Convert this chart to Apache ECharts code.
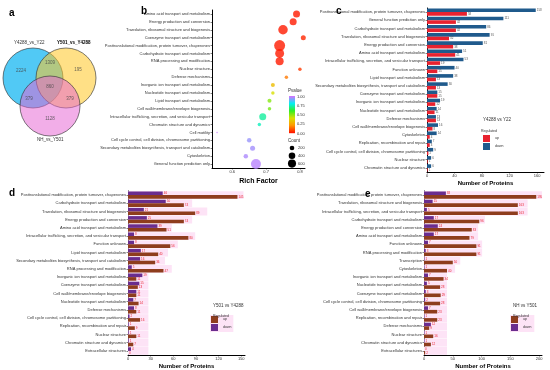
<!DOCTYPE html>
<html><head><meta charset="utf-8">
<script src="https://cdn.jsdelivr.net/npm/echarts@6/dist/echarts.min.js"></script>
<style>html,body{margin:0;padding:0;background:#fff}#c{width:550px;height:370px}</style>
</head><body><div id="c"></div>
<script>
// ---------- Panel a: Venn ----------
const vennSets = ['Y4288_vs_Y22', 'Y501_vs_Y4288', 'NH_vs_Y501'];
const vennCounts = ['2224', '1309', '195', '860', '379', '379', '1128'];

// ---------- Panel b: COG enrichment bubble ----------
const bCats = ['Amino acid transport and metabolism','Energy production and conversion','Translation, ribosomal structure and biogenesis','Coenzyme transport and metabolism','Posttranslational modification, protein turnover, chaperones','Carbohydrate transport and metabolism','RNA processing and modification','Nuclear structure','Defense mechanisms','Inorganic ion transport and metabolism','Nucleotide transport and metabolism','Lipid transport and metabolism','Cell wall/membrane/envelope biogenesis','Intracellular trafficking, secretion, and vesicular transport','Chromatin structure and dynamics','Cell motility','Cell cycle control, cell division, chromosome partitioning','Secondary metabolites biosynthesis, transport and catabolism','Cytoskeleton','General function prediction only'];
const bRich = [0.79,0.78,0.75,0.81,0.74,0.74,0.74,0.80,0.76,0.72,0.72,0.71,0.71,0.69,0.68,0.555,0.65,0.66,0.64,0.67];
const bCount = [450,450,830,230,1100,740,590,110,110,150,110,150,110,450,110,20,185,230,185,920];
const bPval = [0.0,0.0,0.0,0.02,0.0,0.0,0.0,0.05,0.15,0.3,0.4,0.5,0.52,0.72,0.75,1.0,0.95,0.96,0.97,0.98];
const bXTicks = [0.6, 0.7, 0.8];
const pvalTicks = ['1.00', '0.75', '0.50', '0.25', '0.00'];
const countTicks = [200, 400, 600];

// ---------- Panel c ----------
const cCats = ['Posttranslational modification, protein turnover, chaperones','General function prediction only','Carbohydrate transport and metabolism','Translation, ribosomal structure and biogenesis','Energy production and conversion','Amino acid transport and metabolism','Intracellular trafficking, secretion, and vesicular transport','Function unknown','Lipid transport and metabolism','Secondary metabolites biosynthesis, transport and catabolism','Coenzyme transport and metabolism','Inorganic ion transport and metabolism','Nucleotide transport and metabolism','Defense mechanisms','Cell wall/membrane/envelope biogenesis','Cytoskeleton','Replication, recombination and repair','Cell cycle control, cell division, chromosome partitioning','Nuclear structure','Chromatin structure and dynamics'];
const cDown = [158,111,86,91,81,51,53,40,38,30,15,19,14,13,16,14,7,9,6,6];
const cUp = [58,42,42,32,38,41,19,15,13,13,15,12,11,13,8,4,4,2,1,1];

// ---------- Panel d ----------
const dCats = ['Posttranslational modification, protein turnover, chaperones','Carbohydrate transport and metabolism','Translation, ribosomal structure and biogenesis','Energy production and conversion','Amino acid transport and metabolism','Intracellular trafficking, secretion, and vesicular transport','Function unknown','Lipid transport and metabolism','Secondary metabolites biosynthesis, transport and catabolism','RNA processing and modification','Inorganic ion transport and metabolism','Coenzyme transport and metabolism','Cell wall/membrane/envelope biogenesis','Nucleotide transport and metabolism','Defense mechanisms','Cell cycle control, cell division, chromosome partitioning','Replication, recombination and repair','Nuclear structure','Chromatin structure and dynamics','Extracellular structures'];
const dDown = [46,50,21,25,39,8,8,17,16,5,19,15,11,7,8,2,1,1,1,4];
const dUp = [145,74,89,74,51,80,56,40,36,47,11,13,11,14,11,16,9,11,7,0];
const dBg = [153,85,105,85,58,89,66,53,49,58,27,27,27,27,27,27,27,27,27,27];

// ---------- Panel e ----------
const eCats = ['Posttranslational modification, protein turnover, chaperones','Translation, ribosomal structure and biogenesis','Intracellular trafficking, secretion, and vesicular transport','Carbohydrate transport and metabolism','Energy production and conversion','Amino acid transport and metabolism','Function unknown','RNA processing and modification','Transcription','Cytoskeleton','Inorganic ion transport and metabolism','Nucleotide transport and metabolism','Coenzyme transport and metabolism','Cell cycle control, cell division, chromosome partitioning','Cell wall/membrane/envelope biogenesis','Replication, recombination and repair','Defense mechanisms','Nuclear structure','Chromatin structure and dynamics','Extracellular structures'];
const eDown = [38,15,5,17,24,17,7,3,1,1,7,5,3,2,7,1,12,1,1,0];
const eUp = [195,163,163,96,83,79,91,91,50,40,34,28,29,28,23,23,9,16,12,2];
const eBg = [205,180,180,106,94,94,101,101,63,54,40,40,40,40,40,40,40,40,40,40];

const FONT = 'Liberation Sans';
const PCOLORS = ['#ff1a00', '#ff9900', '#d8e000', '#33ee22', '#00f0f0', '#cc77ff'];
const chart = echarts.init(document.getElementById('c'), null, {renderer: 'canvas'});

function catAxis(gi, cats, extra) {
  return Object.assign({
    type: 'category', gridIndex: gi, data: cats, inverse: true,
    axisLine: {show: true, lineStyle: {color: '#000', width: 1}},
    axisTick: {show: true, length: 1.5, alignWithLabel: true, lineStyle: {color: '#000', width: 0.5}},
    axisLabel: {fontSize: 4, color: '#333', fontFamily: FONT, margin: 2}
  }, extra || {});
}
function valAxis(gi, max, interval, name) {
  return {
    type: 'value', gridIndex: gi, min: 0, max: max, interval: interval,
    name: name, nameLocation: 'middle', nameGap: 8,
    nameTextStyle: {fontSize: 6, fontWeight: 'bold', color: '#000', fontFamily: FONT},
    splitLine: {show: false},
    axisLine: {show: true, lineStyle: {color: '#000', width: 1}},
    axisTick: {show: true, length: 1.5, lineStyle: {color: '#000', width: 0.5}},
    axisLabel: {fontSize: 4, color: '#333', fontFamily: FONT, margin: 2, showMaxLabel: false}
  };
}
function labelCfg(color) {
  return {show: true, position: 'right', distance: 1, fontSize: 3, color: color, fontFamily: FONT};
}
const sizeOf = c => Math.max(1.2, Math.sqrt(c) * 0.33);

const vennCircles = [
  {value: [33, 78], itemStyle: {color: 'rgba(0,176,240,0.85)'}},
  {value: [66, 78], itemStyle: {color: 'rgba(255,200,40,0.70)'}},
  {value: [50, 106], itemStyle: {color: 'rgba(230,100,210,0.65)'}}
];
const vennLabelPos = [[21,71],[50,63],[78,70],[50,87],[29,99],[70,99],[50,119]];

const option = {
  backgroundColor: '#fff',
  animation: false,
  textStyle: {fontFamily: FONT},
  title: [
    {text: 'a', left: 4, top: 3, textStyle: {fontSize: 10, fontWeight: 'bold', color: '#000'}},
    {text: 'b', left: 136, top: 1, textStyle: {fontSize: 10, fontWeight: 'bold', color: '#000'}},
    {text: 'c', left: 331, top: 1, textStyle: {fontSize: 10, fontWeight: 'bold', color: '#000'}},
    {text: 'd', left: 4, top: 183, textStyle: {fontSize: 10, fontWeight: 'bold', color: '#000'}},
    {text: 'e', left: 360, top: 184, textStyle: {fontSize: 10, fontWeight: 'bold', color: '#000'}},
    {text: 'Y4288 vs Y22', left: 478, top: 112, textStyle: {fontSize: 4.5, fontWeight: 'normal', color: '#333'}},
    {text: 'Regulated', left: 476, top: 124, textStyle: {fontSize: 3.5, fontWeight: 'normal', color: '#333'}},
    {text: 'Y501 vs Y4288', left: 208, top: 298, textStyle: {fontSize: 4.5, fontWeight: 'normal', color: '#333'}},
    {text: 'Regulated', left: 208, top: 309, textStyle: {fontSize: 3.5, fontWeight: 'normal', color: '#333'}},
    {text: 'NH vs Y501', left: 508, top: 298, textStyle: {fontSize: 4.5, fontWeight: 'normal', color: '#333'}},
    {text: 'Regulated', left: 508, top: 309, textStyle: {fontSize: 3.5, fontWeight: 'normal', color: '#333'}}
  ],
  grid: [
    {left: 0, top: 30, width: 110, height: 120, show: false},
    {left: 212, top: 10, width: 93, height: 158},
    {left: 427, top: 8, width: 117, height: 164},
    {left: 128, top: 191, width: 117, height: 166},
    {left: 424, top: 191, width: 118, height: 166}
  ],
  xAxis: [
    {type: 'value', gridIndex: 0, min: 0, max: 110, show: false},
    {type: 'value', gridIndex: 1, min: 0.54, max: 0.815, name: 'Rich Factor', nameLocation: 'middle', nameGap: 10,
     nameTextStyle: {fontSize: 7, fontWeight: 'bold', color: '#000'},
     splitLine: {show: false}, axisLine: {show: true, lineStyle: {color: '#000'}},
     axisTick: {show: true, length: 1.5, customValues: bXTicks, lineStyle: {color: '#000', width: 0.5}},
     axisLabel: {fontSize: 4, color: '#333', margin: 2, customValues: bXTicks, formatter: v => v.toFixed(1)}},
    valAxis(2, 170, 40, 'Number of Proteins'),
    valAxis(3, 155, 30, 'Number of Proteins'),
    valAxis(4, 205, 50, 'Number of Proteins')
  ],
  yAxis: [
    {type: 'value', gridIndex: 0, min: 30, max: 150, inverse: true, show: false},
    catAxis(1, bCats),
    catAxis(2, cCats),
    catAxis(3, dCats),
    catAxis(4, eCats),
    catAxis(3, dCats, {show: false}),
    catAxis(4, eCats, {show: false})
  ],
  legend: [
    {data: ['up', 'down'], orient: 'vertical', left: 478, top: 130, itemWidth: 7, itemHeight: 7, itemGap: 1,
     textStyle: {fontSize: 3.5, color: '#333'}, icon: 'rect'},
    {data: ['up ', 'down '], orient: 'vertical', left: 210, top: 315, itemWidth: 7, itemHeight: 7, itemGap: 1,
     textStyle: {fontSize: 3.5, color: '#333'}, icon: 'rect', backgroundColor: '#fde3f6', padding: 1},
    {data: ['up  ', 'down  '], orient: 'vertical', left: 510, top: 315, itemWidth: 7, itemHeight: 7, itemGap: 1,
     textStyle: {fontSize: 3.5, color: '#333'}, icon: 'rect', backgroundColor: '#fde3f6', padding: 1}
  ],
  visualMap: {
    type: 'continuous', show: false, seriesIndex: 2, dimension: 2, min: 0, max: 1,
    inRange: {color: PCOLORS}
  },
  series: [
    {type: 'scatter', xAxisIndex: 0, yAxisIndex: 0, symbolSize: 60, data: vennCircles,
     itemStyle: {borderColor: '#333', borderWidth: 0.8}, silent: true, z: 1},
    {type: 'scatter', xAxisIndex: 0, yAxisIndex: 0, symbolSize: 0, z: 3,
     data: vennLabelPos.map((p, i) => ({value: p, name: vennCounts[i]})),
     label: {show: true, position: 'inside', formatter: p => p.name, fontSize: 4.5, color: '#444'}},
    {type: 'scatter', xAxisIndex: 1, yAxisIndex: 1, z: 3,
     data: bCats.map((c, i) => [bRich[i], c, bPval[i], bCount[i]]),
     symbolSize: d => sizeOf(d[3])},
    // panel c
    {type: 'bar', name: 'down', xAxisIndex: 2, yAxisIndex: 2, data: cDown, barWidth: 3.6, barGap: '0%',
     itemStyle: {color: '#1f5a8c'}, label: labelCfg('#555')},
    {type: 'bar', name: 'up', xAxisIndex: 2, yAxisIndex: 2, data: cUp, barWidth: 3.6, barGap: '0%',
     itemStyle: {color: '#e8222f'}, label: labelCfg('#555')},
    // panel d
    {type: 'bar', xAxisIndex: 3, yAxisIndex: 5, data: dBg, barWidth: 7.8, itemStyle: {color: '#fde3f6'}, silent: true, z: 1},
    {type: 'bar', name: 'down ', xAxisIndex: 3, yAxisIndex: 3, data: dDown, barWidth: 3.6, barGap: '0%',
     itemStyle: {color: '#6a2d8e'}, label: labelCfg('#e8222f'), z: 2},
    {type: 'bar', name: 'up ', xAxisIndex: 3, yAxisIndex: 3, data: dUp, barWidth: 3.6, barGap: '0%',
     itemStyle: {color: '#8e3d1d'}, label: labelCfg('#e8222f'), z: 2},
    // panel e
    {type: 'bar', xAxisIndex: 4, yAxisIndex: 6, data: eBg, barWidth: 7.8, itemStyle: {color: '#fde3f6'}, silent: true, z: 1},
    {type: 'bar', name: 'down  ', xAxisIndex: 4, yAxisIndex: 4, data: eDown, barWidth: 3.6, barGap: '0%',
     itemStyle: {color: '#6a2d8e'}, label: labelCfg('#e8222f'), z: 2},
    {type: 'bar', name: 'up  ', xAxisIndex: 4, yAxisIndex: 4, data: eUp, barWidth: 3.6, barGap: '0%',
     itemStyle: {color: '#8e3d1d'}, label: labelCfg('#e8222f'), z: 2}
  ]
};
// colour bar legend for Pvalue (top = 1.00, bottom = 0.00), built from 1px slices
const BAR_X = 289, BAR_Y = 96, BAR_H = 37;
const g = [
  {type: 'text', left: 288, top: 88, style: {text: 'Pvalue', fontSize: 4.5, fill: '#333'}},
  {type: 'text', left: 288, top: 138, style: {text: 'Count', fontSize: 4.5, fill: '#333'}}
];
for (let k = 0; k < BAR_H; k++) {
  const t = 1 - k / (BAR_H - 1);
  g.push({type: 'rect', z: 100, shape: {x: BAR_X, y: BAR_Y + k, width: 6, height: 1.2},
          style: {fill: echarts.color.lerp(t, PCOLORS), stroke: null}});
}
pvalTicks.forEach((t, i) => g.push({type: 'text', left: 297, top: 94.5 + i * 9.25, style: {text: t, fontSize: 4, fill: '#333'}}));
countTicks.forEach((c, i) => {
  g.push({type: 'circle', z: 10, shape: {cx: 292, cy: 148 + i * 7.8, r: sizeOf(c) / 2}, style: {fill: '#000'}});
  g.push({type: 'text', left: 298, top: 146 + i * 7.8, style: {text: String(c), fontSize: 4, fill: '#333'}});
});
g.push({type: 'text', left: 14, top: 40, style: {text: vennSets[0], fontSize: 4.5, fill: '#333'}});
g.push({type: 'text', left: 57, top: 40, style: {text: vennSets[1], fontSize: 4.5, fill: '#000', fontWeight: 'bold'}});
g.push({type: 'text', left: 37, top: 137, style: {text: vennSets[2], fontSize: 4.5, fill: '#333'}});
option.graphic = g;
chart.setOption(option);
</script></body></html>
